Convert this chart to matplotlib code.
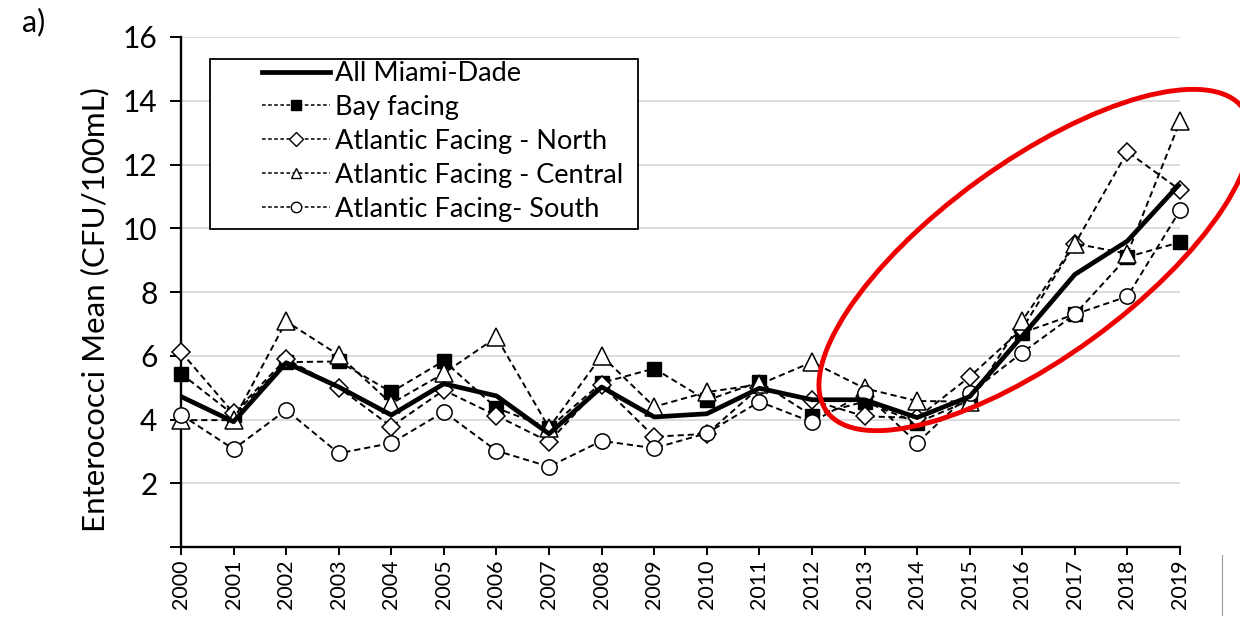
import numpy as np
import matplotlib
matplotlib.use("Agg")
import matplotlib.pyplot as plt
from matplotlib.patches import Ellipse, Rectangle
from matplotlib.lines import Line2D

plt.rcParams['font.family'] = ['Lato', 'DejaVu Sans']

# ── data ───────────────────────────────────────────────────────────────────
years = list(range(2000, 2020))

all_miami = [4.72, 3.93, 5.78, 5.02, 4.14, 5.12, 4.74, 3.55, 5.02, 4.08,
             4.18, 4.98, 4.62, 4.62, 4.06, 4.72, 6.62, 8.55, 9.6, 11.4]
bay = [5.44, 4.15, 5.8, 5.82, 4.86, 5.84, 4.36, 3.74, 5.15, 5.6,
       4.6, 5.18, 4.12, 4.56, 3.9, 4.6, 6.72, 7.3, 9.1, 9.56]
north = [6.12, 4.2, 5.9, 5.0, 3.78, 4.92, 4.12, 3.3, 5.08, 3.46,
         3.55, 5.0, 4.6, 4.1, 4.05, 5.34, 6.85, 9.5, 12.4, 11.2]
central = [3.98, 3.98, 7.08, 6.02, 4.5, 5.45, 6.58, 3.74, 6.0, 4.4,
           4.86, 5.1, 5.8, 4.98, 4.58, 4.56, 7.1, 9.52, 9.2, 13.35]
south = [4.15, 3.07, 4.3, 2.94, 3.26, 4.24, 3.02, 2.52, 3.33, 3.1,
         3.57, 4.56, 3.92, 4.82, 3.26, 4.82, 6.1, 7.3, 7.86, 10.56]

labels = ["All Miami-Dade", "Bay facing", "Atlantic Facing - North",
          "Atlantic Facing - Central", "Atlantic Facing- South"]

# ── figure ─────────────────────────────────────────────────────────────────
fig = plt.figure(figsize=(12.4, 6.18), dpi=100)
ax = fig.add_axes([181 / 1240, 71 / 618, 999 / 1240, 510 / 618])

dash = dict(color="black", lw=1.4, ls=(0, (3.2, 2.0)), clip_on=False, zorder=3)
ax.plot(years, bay, marker="s", ms=10, mfc="black", mec="black", **dash)
ax.plot(years, north, marker="D", ms=9, mfc="white", mec="black", mew=1.1, **dash)
ax.plot(years, central, marker="^", ms=13, mfc="white", mec="black", mew=1.1, **dash)
ax.plot(years, south, marker="o", ms=11, mfc="white", mec="black", mew=1.1, **dash)
ax.plot(years, all_miami, color="black", lw=3.4, solid_capstyle="butt",
        clip_on=False, zorder=4)

ax.set_xlim(2000, 2019)
ax.set_ylim(0, 16)
ax.set_yticks(range(0, 17, 2))
ax.set_yticklabels(["", "2", "4", "6", "8", "10", "12", "14", "16"])
ax.set_xticks(years)
ax.set_xticklabels([str(y) for y in years], rotation=90)
ax.tick_params(axis="y", labelsize=21.5, length=8, width=1.4, pad=9)
ax.tick_params(axis="x", labelsize=15.5, length=6, width=1.4, pad=3)
ax.grid(axis="y", color="#d9d9d9", lw=1.3, zorder=0)
ax.set_axisbelow(True)
for side in ("top", "right"):
    ax.spines[side].set_visible(False)
for side in ("left", "bottom"):
    ax.spines[side].set_linewidth(1.7)
ax.set_ylabel("Enterococci Mean (CFU/100mL)", fontsize=22.5)
ax.yaxis.set_label_coords(-0.072, 0.465)

# legend: frame drawn separately so the entries can sit to its right
handles = [Line2D([], [], color="black", lw=3.4)]
for m, fc in (("s", "black"), ("D", "white"), ("^", "white"), ("o", "white")):
    handles.append(Line2D([], [], color="black", lw=1.1, ls=(0, (2.4, 1.6)),
                          marker=m, ms=7.5, mfc=fc, mec="black"))
ax.legend(handles, labels, loc="upper left",
          bbox_to_anchor=(81 / 999, 1 - 24 / 510), fontsize=19.5,
          frameon=False, handlelength=2.5, handletextpad=0.2,
          labelspacing=0.33, borderpad=0, borderaxespad=0)
fig.add_artist(Rectangle((210 / 1240, 1 - 229 / 618), 428 / 1240, 170 / 618,
                         fill=False, edgecolor="black", lw=1.3,
                         transform=fig.transFigure, zorder=5))
ax.add_patch(Rectangle((210 / 1240, 1 - 229 / 618), 428 / 1240, 170 / 618,
                       facecolor="white", edgecolor="none",
                       transform=fig.transFigure, zorder=2))

# red ellipse highlight
fig.add_artist(Ellipse((10.35, 3.58), 5.15, 1.95, angle=36, fill=False,
                       edgecolor="#ee0000", lw=3.5,
                       transform=fig.dpi_scale_trans, clip_on=False))

# panel tag and crop line
fig.text(22 / 1240, 1 - 22 / 618, "a)", fontsize=22, va="center")
fig.add_artist(Line2D([1222 / 1240, 1222 / 1240], [3 / 618, 63 / 618],
                      color="#999999", lw=0.8, transform=fig.transFigure))

plt.savefig("out.png", dpi=100)
